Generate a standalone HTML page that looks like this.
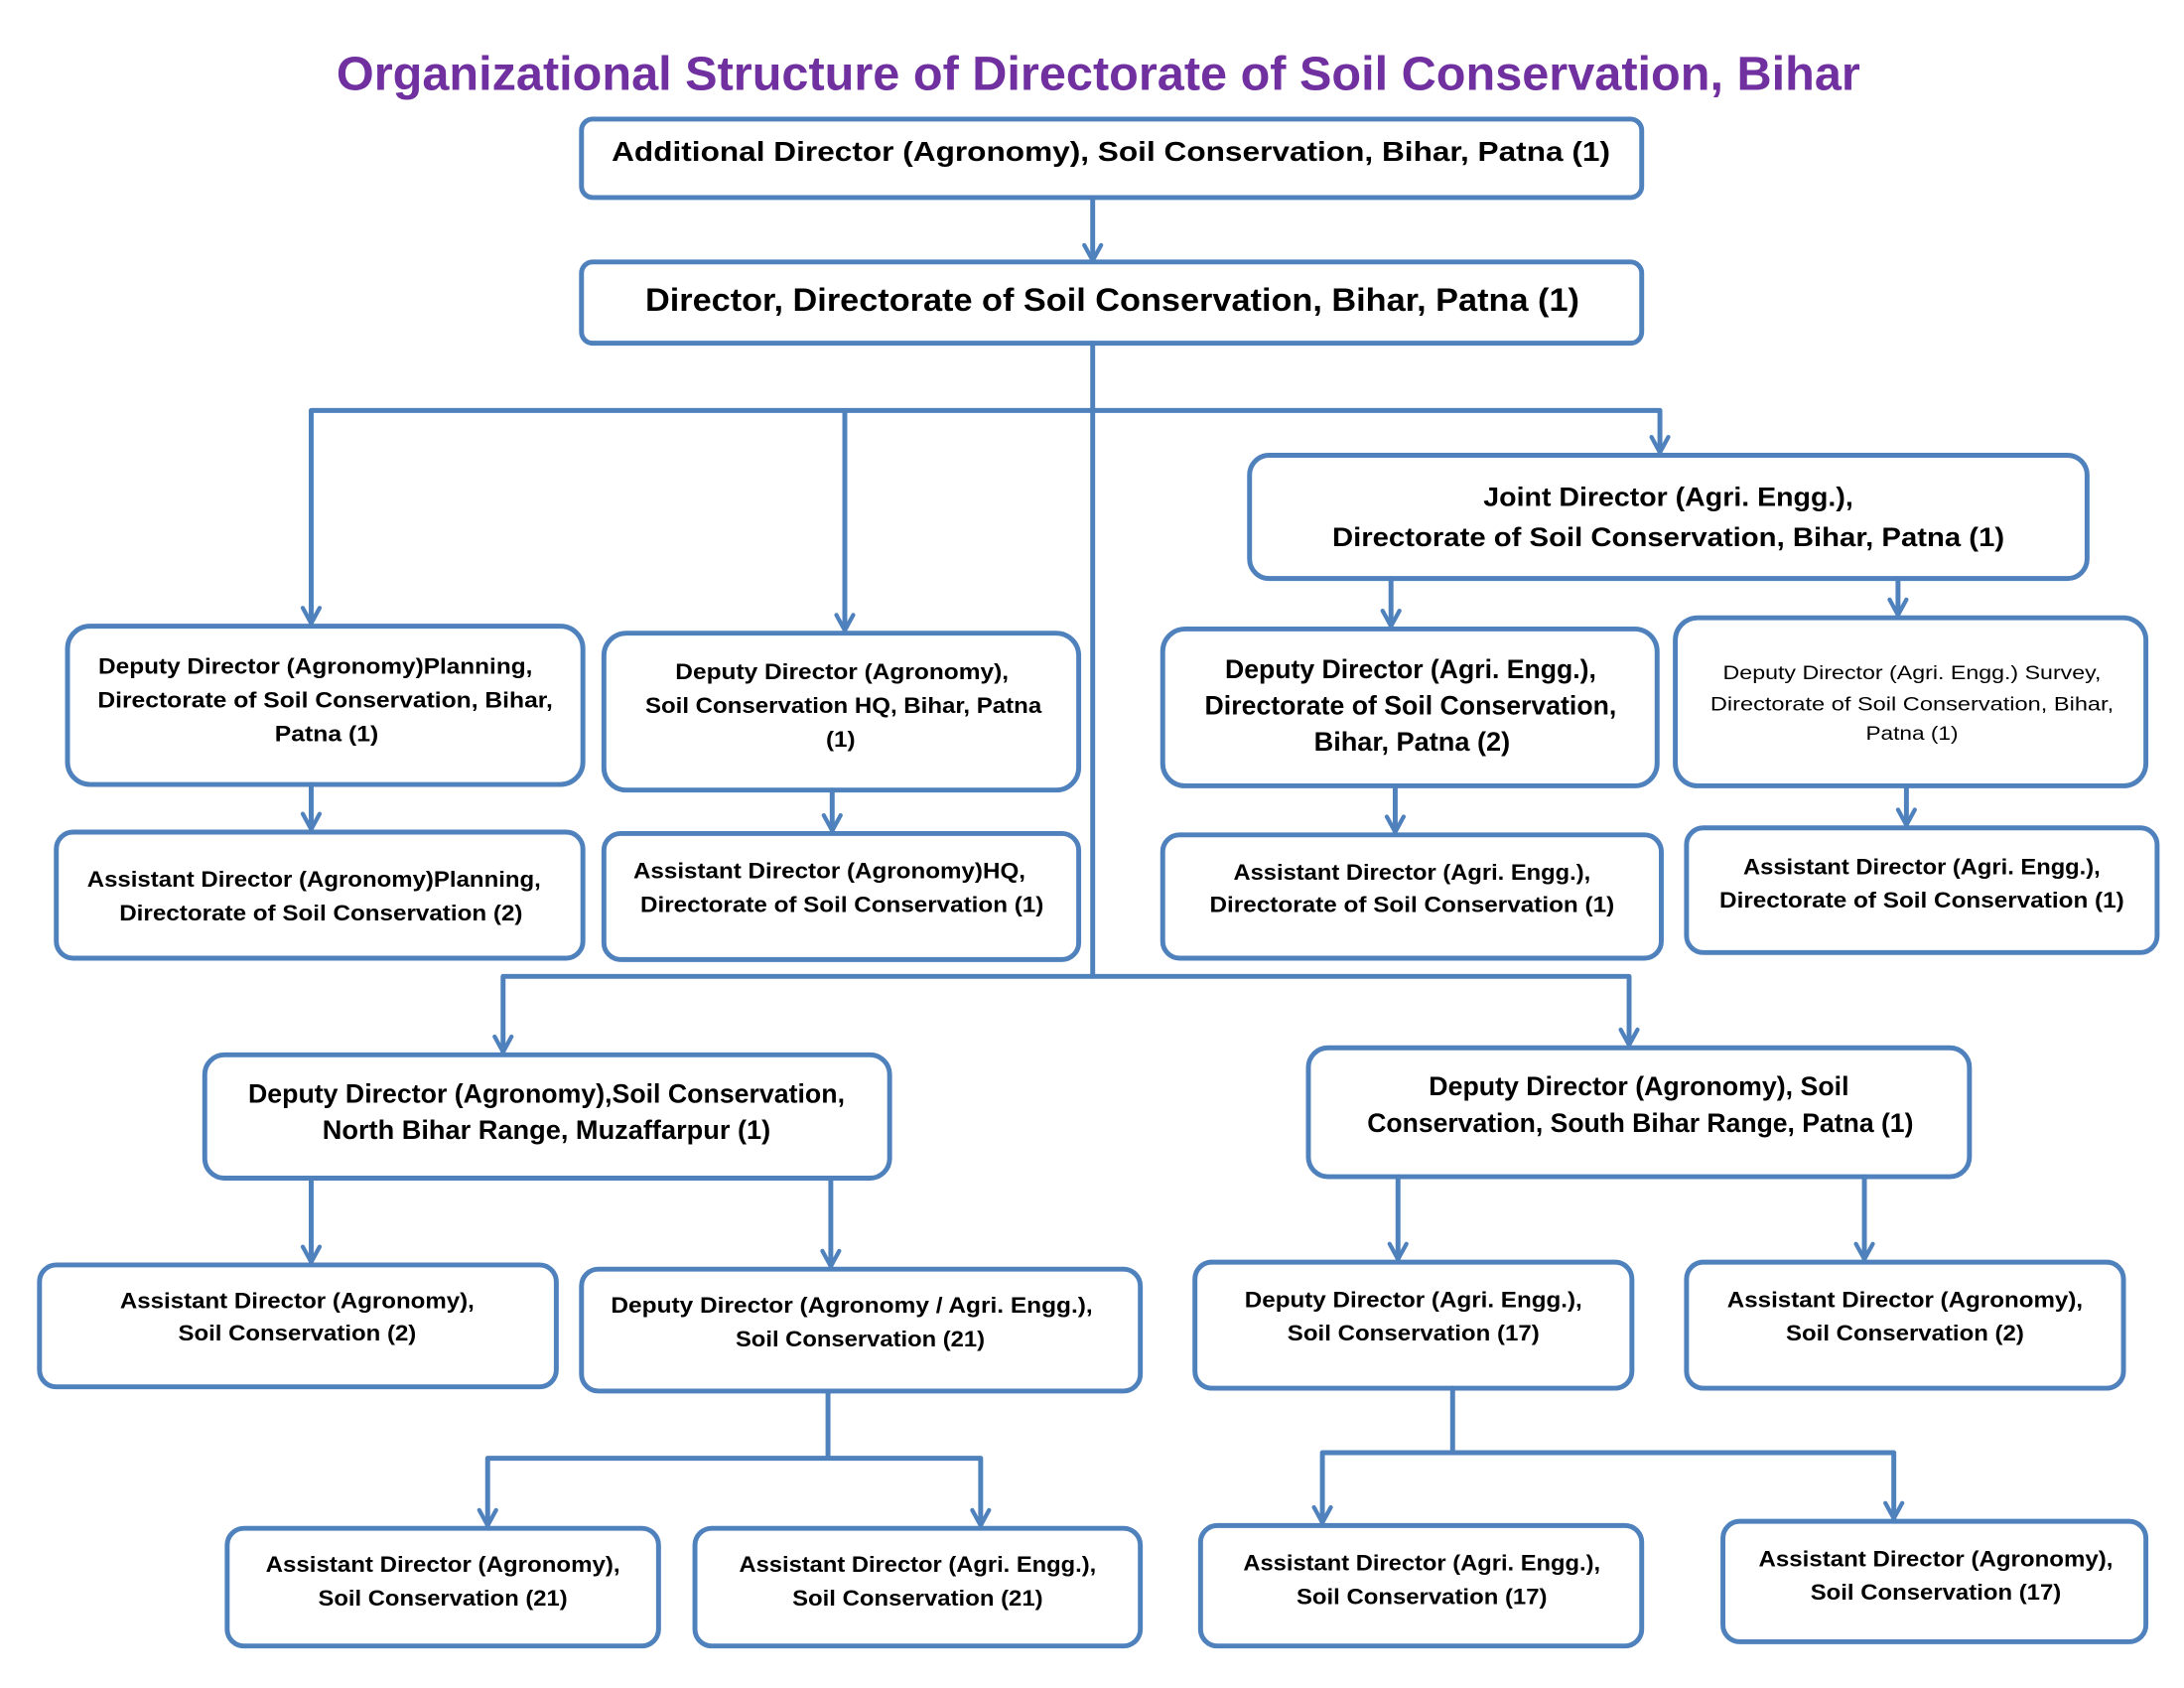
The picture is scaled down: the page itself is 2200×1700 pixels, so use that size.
<!DOCTYPE html>
<html><head><meta charset="utf-8"><style>html,body{margin:0;padding:0;background:#fff}svg{display:block}</style></head>
<body>
<svg width="2200" height="1700" viewBox="0 0 1559 1205" xmlns="http://www.w3.org/2000/svg" font-family="'Liberation Sans', sans-serif" font-weight="bold">
<defs>
<marker id="a" viewBox="0 0 12 12" refX="6" refY="11" markerWidth="12" markerHeight="12" markerUnits="userSpaceOnUse" orient="auto-start-reverse">
</marker>
</defs>
<rect width="1559" height="1205" fill="#fff"/>
<text x="784" y="64" font-size="34" fill="#7030a0" text-anchor="middle" textLength="1088" lengthAdjust="spacingAndGlyphs">Organizational Structure of Directorate of Soil Conservation, Bihar</text>
<g fill="none" stroke="#4f81bd" stroke-width="3.5" stroke-linecap="round" stroke-linejoin="round">
<rect x="415" y="85" width="757" height="56" rx="8"/>
<rect x="415" y="187" width="757" height="58" rx="8"/>
<rect x="892" y="325" width="598" height="88" rx="14"/>
<rect x="48" y="447" width="368" height="113" rx="16"/>
<rect x="431" y="452" width="339" height="112" rx="16"/>
<rect x="830" y="449" width="353" height="112" rx="16"/>
<rect x="1196" y="441" width="336" height="120" rx="16"/>
<rect x="40" y="594" width="376" height="90" rx="12"/>
<rect x="431" y="595" width="339" height="90" rx="12"/>
<rect x="830" y="596" width="356" height="88" rx="12"/>
<rect x="1204" y="591" width="336" height="89" rx="12"/>
<rect x="146" y="753" width="489" height="88" rx="14"/>
<rect x="934" y="748" width="472" height="92" rx="14"/>
<rect x="28" y="903" width="369" height="87" rx="12"/>
<rect x="415" y="906" width="399" height="87" rx="12"/>
<rect x="853" y="901" width="312" height="90" rx="12"/>
<rect x="1204" y="901" width="312" height="90" rx="12"/>
<rect x="162" y="1091" width="308" height="84" rx="12"/>
<rect x="496" y="1091" width="318" height="84" rx="12"/>
<rect x="857" y="1089" width="315" height="86" rx="12"/>
<rect x="1230" y="1086" width="302" height="86" rx="12"/>
<!-- connectors -->
<path d="M780 141V185M780 245V697M222 293H1185M222 293V445M603 293V450M1185 293V323"/>
<path d="M993 413V447M1355 413V439M222 560V592M594 564V593M996 561V594M1361 561V589"/>
<path d="M359 697H1163M359 697V751M1163 697V746"/>
<path d="M222 841V901M593 841V904M998 840V899M1331 840V899"/>
<path d="M591 993V1041M348 1041H700M348 1041V1089M700 1041V1089"/>
<path d="M1037 991V1037M944 1037H1352M944 1037V1087M1352 1037V1084"/>
<!-- arrowheads -->
<g stroke-width="3">
<path d="M774 175L780 186L786 175"/>
<path d="M216 434L222 445L228 434M597 439L603 450L609 439M1179 312L1185 323L1191 312"/>
<path d="M987 436L993 447L999 436M1349 428L1355 439L1361 428M216 581L222 592L228 581M588 582L594 593L600 582M990 583L996 594L1002 583M1355 578L1361 589L1367 578"/>
<path d="M353 740L359 751L365 740M1157 735L1163 746L1169 735"/>
<path d="M216 890L222 901L228 890M587 893L593 904L599 893M992 888L998 899L1004 888M1325 888L1331 899L1337 888"/>
<path d="M342 1078L348 1089L354 1078M694 1078L700 1089L706 1078M938 1076L944 1087L950 1076M1346 1073L1352 1084L1358 1073"/>
</g>
</g>
<g fill="#000" text-anchor="middle" lengthAdjust="spacingAndGlyphs">
<text x="793" y="115" font-size="20" textLength="713" lengthAdjust="spacingAndGlyphs">Additional Director (Agronomy), Soil Conservation, Bihar, Patna (1)</text>
<text x="794" y="222" font-size="23" textLength="667" lengthAdjust="spacingAndGlyphs">Director, Directorate of Soil Conservation, Bihar, Patna (1)</text>
<text x="1191" y="361" font-size="19" textLength="264" lengthAdjust="spacingAndGlyphs">Joint Director (Agri. Engg.),</text>
<text x="1191" y="390" font-size="19" textLength="480" lengthAdjust="spacingAndGlyphs">Directorate of Soil Conservation, Bihar, Patna (1)</text>

<g font-size="16">
<text x="225" y="481" textLength="310" lengthAdjust="spacingAndGlyphs">Deputy Director (Agronomy)Planning,</text>
<text x="232" y="505" textLength="325" lengthAdjust="spacingAndGlyphs">Directorate of  Soil Conservation, Bihar,</text>
<text x="233" y="529" textLength="74" lengthAdjust="spacingAndGlyphs">Patna (1)</text>
<text x="601" y="485" textLength="238" lengthAdjust="spacingAndGlyphs">Deputy Director (Agronomy),</text>
<text x="602" y="509" textLength="283" lengthAdjust="spacingAndGlyphs">Soil Conservation HQ, Bihar, Patna</text>
<text x="600" y="533" textLength="21" lengthAdjust="spacingAndGlyphs">(1)</text>
<text x="224" y="633" textLength="324" lengthAdjust="spacingAndGlyphs">Assistant Director (Agronomy)Planning,</text>
<text x="229" y="657" textLength="288" lengthAdjust="spacingAndGlyphs">Directorate of Soil Conservation (2)</text>
<text x="592" y="627" textLength="280" lengthAdjust="spacingAndGlyphs">Assistant Director (Agronomy)HQ,</text>
<text x="601" y="651" textLength="288" lengthAdjust="spacingAndGlyphs">Directorate of Soil Conservation (1)</text>
<text x="1008" y="628" textLength="255" lengthAdjust="spacingAndGlyphs">Assistant Director (Agri. Engg.),</text>
<text x="1008" y="651" textLength="289" lengthAdjust="spacingAndGlyphs">Directorate of Soil Conservation (1)</text>
<text x="1372" y="624" textLength="255" lengthAdjust="spacingAndGlyphs">Assistant Director (Agri. Engg.),</text>
<text x="1372" y="648" textLength="289" lengthAdjust="spacingAndGlyphs">Directorate of Soil Conservation (1)</text>
<text x="212" y="934" textLength="253" lengthAdjust="spacingAndGlyphs">Assistant Director (Agronomy),</text>
<text x="212" y="957" textLength="170" lengthAdjust="spacingAndGlyphs">Soil Conservation (2)</text>
<text x="608" y="937" textLength="344" lengthAdjust="spacingAndGlyphs">Deputy Director (Agronomy / Agri. Engg.),</text>
<text x="614" y="961" textLength="178" lengthAdjust="spacingAndGlyphs">Soil Conservation (21)</text>
<text x="1009" y="933" textLength="241" lengthAdjust="spacingAndGlyphs">Deputy Director (Agri. Engg.),</text>
<text x="1009" y="957" textLength="180" lengthAdjust="spacingAndGlyphs">Soil Conservation (17)</text>
<text x="1360" y="933" textLength="254" lengthAdjust="spacingAndGlyphs">Assistant Director (Agronomy),</text>
<text x="1360" y="957" textLength="170" lengthAdjust="spacingAndGlyphs">Soil Conservation (2)</text>
<text x="316" y="1122" textLength="253" lengthAdjust="spacingAndGlyphs">Assistant Director (Agronomy),</text>
<text x="316" y="1146" textLength="178" lengthAdjust="spacingAndGlyphs">Soil Conservation (21)</text>
<text x="655" y="1122" textLength="255" lengthAdjust="spacingAndGlyphs">Assistant Director (Agri. Engg.),</text>
<text x="655" y="1146" textLength="179" lengthAdjust="spacingAndGlyphs">Soil Conservation (21)</text>
<text x="1015" y="1121" textLength="255" lengthAdjust="spacingAndGlyphs">Assistant Director (Agri. Engg.),</text>
<text x="1015" y="1145" textLength="179" lengthAdjust="spacingAndGlyphs">Soil Conservation (17)</text>
<text x="1382" y="1118" textLength="253" lengthAdjust="spacingAndGlyphs">Assistant Director (Agronomy),</text>
<text x="1382" y="1142" textLength="179" lengthAdjust="spacingAndGlyphs">Soil Conservation (17)</text>
</g>
<g font-size="19">
<text x="1007" y="484" textLength="265" lengthAdjust="spacingAndGlyphs">Deputy Director (Agri. Engg.),</text>
<text x="1007" y="510" textLength="294" lengthAdjust="spacingAndGlyphs">Directorate of Soil Conservation,</text>
<text x="1008" y="536" textLength="140" lengthAdjust="spacingAndGlyphs">Bihar, Patna (2)</text>
<text x="390" y="787" textLength="426" lengthAdjust="spacingAndGlyphs">Deputy Director (Agronomy),Soil Conservation,</text>
<text x="390" y="813" textLength="320" lengthAdjust="spacingAndGlyphs">North Bihar Range, Muzaffarpur (1)</text>
<text x="1170" y="782" textLength="300" lengthAdjust="spacingAndGlyphs">Deputy Director (Agronomy), Soil</text>
<text x="1171" y="808" textLength="390" lengthAdjust="spacingAndGlyphs">Conservation, South Bihar Range, Patna (1)</text>
</g>
<g font-size="14" font-weight="normal">
<text x="1365" y="485" textLength="270" lengthAdjust="spacingAndGlyphs">Deputy Director (Agri. Engg.) Survey,</text>
<text x="1365" y="507" textLength="288" lengthAdjust="spacingAndGlyphs">Directorate of Soil Conservation, Bihar,</text>
<text x="1365" y="528" textLength="66" lengthAdjust="spacingAndGlyphs">Patna (1)</text>
</g>
</g>
</svg>
</body></html>
